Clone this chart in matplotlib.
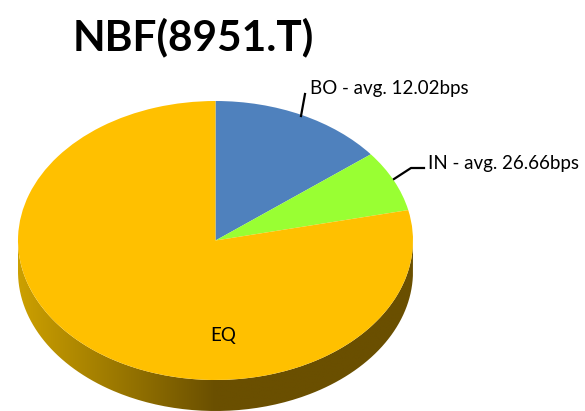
import numpy as np
import matplotlib
matplotlib.use("Agg")
import matplotlib.pyplot as plt
from matplotlib.colors import LinearSegmentedColormap
from matplotlib.patches import PathPatch
from matplotlib.path import Path

labels = ["BO", "IN", "EQ"]
shares = [14.4, 7.1, 78.5]
avg_bps = [12.02, 26.66, None]
colors = ["#4F81BD", "#99FF33", "#FFC000"]
wall_stops = [(0.0, "#CCA000"), (0.28, "#957300"), (0.5, "#6A4F00"), (1.0, "#6A4F00")]

W, H = 585, 411
CX, CY, RX, RY = 215.5, 240.5, 197.5, 139.5
DEPTH = 31 / RY


def px(x, y):
    # reference pixel position to pie units
    return (x - CX) / RX, (CY - y) / RY


plt.rcParams["font.family"] = ["Lato", "DejaVu Sans"]

fig = plt.figure(figsize=(W / 100, H / 100), dpi=100)
ax = fig.add_axes([0, 0, 1, 1])

ax.pie(shares, colors=colors, startangle=90, counterclock=False, radius=1,
       wedgeprops={"linewidth": 0, "zorder": 3})
ax.set_aspect("auto")
ax.axis("off")

# side wall of the disc, horizontal shading clipped to the lower rim
t = np.linspace(np.pi, 2 * np.pi, 200)
rim_x = np.cos(t)
rim_y = np.sin(t)
wall_x = np.concatenate([rim_x, rim_x[::-1]])
wall_y = np.concatenate([rim_y, rim_y[::-1] - DEPTH])
wall = PathPatch(Path(np.column_stack([wall_x, wall_y])), fc="none", ec="none",
                 transform=ax.transData)
ax.add_patch(wall)
cmap = LinearSegmentedColormap.from_list("wall", wall_stops)
img = ax.imshow(np.linspace(0, 1, 256)[None, :], cmap=cmap, aspect="auto",
                extent=(-1, 1, -1 - DEPTH, 0), zorder=1, interpolation="bilinear")
img.set_clip_path(wall)
ax.set_xlim(px(0, 0)[0], px(W, 0)[0])
ax.set_ylim(px(0, H)[1], px(0, 0)[1])

# leader lines
bo_line = np.array([px(301, 116), px(305, 94)])
in_line = np.array([px(394, 179), px(411, 168), px(424, 168)])
ax.plot(bo_line[:, 0], bo_line[:, 1], color="black", lw=1.6, zorder=4)
ax.plot(in_line[:, 0], in_line[:, 1], color="black", lw=1.6, zorder=4)

ax.text(*px(310, 88), f"{labels[0]} - avg. {avg_bps[0]:.2f}bps", fontsize=13.5,
        va="center", ha="left", color="black", zorder=5)
ax.text(*px(428, 163), f"{labels[1]} - avg. {avg_bps[1]:.2f}bps", fontsize=13.5,
        va="center", ha="left", color="black", zorder=5)
ax.text(*px(223, 335), labels[2], fontsize=13.5, va="center", ha="center",
        color="black", zorder=5)

ax.text(*px(193, 37), "NBF(8951.T)", fontsize=30.5, fontweight="bold", va="center",
        ha="center", color="black", zorder=5)

fig.savefig("out.png", dpi=100)
